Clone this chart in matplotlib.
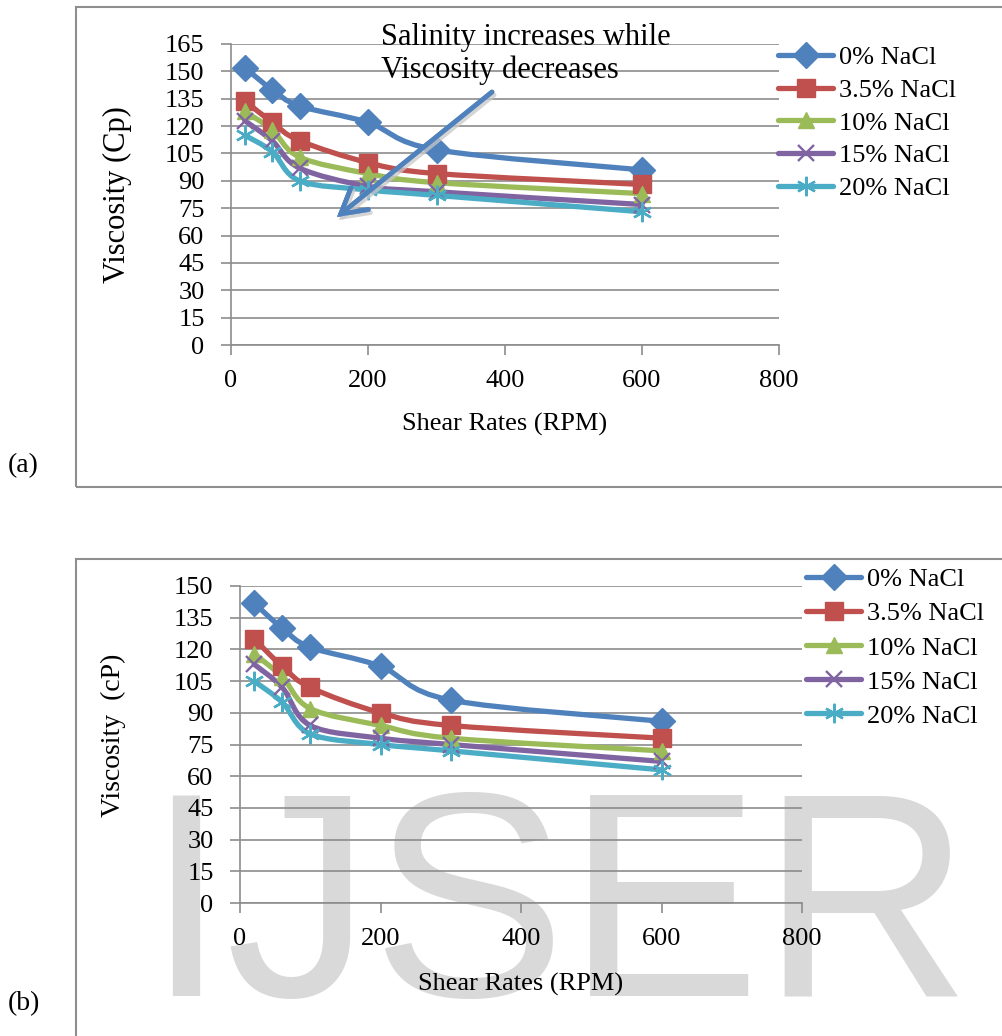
import numpy as np
import matplotlib
matplotlib.use("Agg")
import matplotlib.pyplot as plt
from matplotlib.path import Path
from matplotlib.patches import PathPatch, Rectangle
from matplotlib.lines import Line2D

# shear rates (RPM)
rpm = [20, 60, 100, 200, 300, 600]

series_names = ["0% NaCl", "3.5% NaCl", "10% NaCl", "15% NaCl", "20% NaCl"]

# panel (a) viscosity
visc_a_0 = [152, 140, 131, 122, 107, 96]
visc_a_35 = [134, 122, 112, 100, 94, 88]
visc_a_10 = [128, 118, 103, 94, 89, 83]
visc_a_15 = [123, 112, 97, 87, 84, 77]
visc_a_20 = [115, 106, 90, 85, 82, 73]

# panel (b) viscosity
visc_b_0 = [142, 130, 121, 112, 96, 86]
visc_b_35 = [125, 112, 102, 90, 84, 78]
visc_b_10 = [118, 107, 92, 84, 78, 72]
visc_b_15 = [113, 102, 84, 78, 75, 67]
visc_b_20 = [105, 95, 80, 75, 72, 63]

colors = ["#4F81BD", "#C0504D", "#9BBB59", "#8064A2", "#4BACC6"]
markers = ["D", "s", "^", "x", (6, 2, 0)]
msizes = [13, 13, 12, 12, 14]

W, H = 1002, 1036
FONT = "Liberation Serif"
plt.rcParams["font.family"] = [FONT, "DejaVu Serif"]


def fx(px):
    return px / W


def fy(py):
    return 1 - py / H


def smooth_path(x, y):
    # Excel-like smoothed line: Catmull-Rom segments as cubic Beziers
    pts = np.column_stack([x, y]).astype(float)
    n = len(pts)
    verts = [pts[0]]
    codes = [Path.MOVETO]
    for i in range(n - 1):
        p0 = pts[max(i - 1, 0)]
        p1 = pts[i]
        p2 = pts[i + 1]
        p3 = pts[min(i + 2, n - 1)]
        c1 = p1 + (p2 - p0) / 6.0
        c2 = p2 - (p3 - p1) / 6.0
        verts += [c1, c2, p2]
        codes += [Path.CURVE4] * 3
    return Path(verts, codes)


def draw_panel(ax, data, ymax, ylabel, ylab_size):
    ax.set_facecolor("none")
    for vals, c, m, ms in zip(data, colors, markers, msizes):
        ax.add_patch(PathPatch(smooth_path(rpm, vals), fill=False,
                               edgecolor=c, lw=3.8, capstyle="round",
                               joinstyle="round", zorder=3))
        mew = 1.7 if m in ("x", (6, 2, 0)) else 1
        ax.plot(rpm, vals, linestyle="none", marker=m, markersize=ms,
                color=c, markeredgecolor=c, markeredgewidth=mew, zorder=4)
    ax.set_xlim(0, 800)
    ax.set_ylim(0, ymax)
    ax.set_xticks(range(0, 801, 200))
    ax.set_yticks(range(0, ymax + 1, 15))
    ax.grid(axis="y", color="#8c8c8c", lw=1.2)
    ax.set_axisbelow(True)
    for s in ("top", "right"):
        ax.spines[s].set_visible(False)
    for s in ("left", "bottom"):
        ax.spines[s].set_color("#8c8c8c")
        ax.spines[s].set_linewidth(1.2)
    ax.tick_params(axis="x", direction="out", length=7, width=1.2,
                   color="#8c8c8c", labelsize=19, pad=11)
    ax.tick_params(axis="y", direction="out", length=7, width=1.2,
                   color="#8c8c8c", labelsize=19, pad=12)
    ax.set_xlabel("Shear Rates (RPM)", fontsize=19)
    ax.set_ylabel(ylabel, fontsize=ylab_size)


fig = plt.figure(figsize=(W / 100, H / 100), dpi=100)
fig.patch.set_facecolor("white")

# watermark behind everything
fig.text(fx(145), fy(996), "IJSER", family="Liberation Sans", fontsize=210,
         color="#d9d9d9", ha="left", va="baseline", zorder=-5)

# panel frames
fig.add_artist(Rectangle((fx(76), fy(487)), fx(1100 - 76), fy(7) - fy(487),
                         transform=fig.transFigure, fill=False,
                         edgecolor="#8f8f8f", lw=1.5, zorder=-4))
fig.add_artist(Rectangle((fx(76), fy(1100)), fx(1100 - 76), fy(559) - fy(1100),
                         transform=fig.transFigure, fill=False,
                         edgecolor="#8f8f8f", lw=1.5, zorder=-4))

ax_a = fig.add_axes([fx(231), fy(345), fx(779 - 231), fy(44) - fy(345)])
ax_b = fig.add_axes([fx(240), fy(903), fx(802 - 240), fy(586) - fy(903)])

draw_panel(ax_a, [visc_a_0, visc_a_35, visc_a_10, visc_a_15, visc_a_20],
           165, "Viscosity (Cp)", 22)
draw_panel(ax_b, [visc_b_0, visc_b_35, visc_b_10, visc_b_15, visc_b_20],
           150, "Viscosity  (cP)", 20)

ax_a.xaxis.set_label_coords(0.5, (345 - 424) / 301)
ax_a.xaxis.label.set_va("center")
ax_a.yaxis.set_label_coords((117 - 231) / 548, 0.5)
ax_a.yaxis.label.set_va("center")
ax_b.xaxis.set_label_coords(0.5, (903 - 984) / 317)
ax_b.xaxis.label.set_va("center")
ax_b.yaxis.set_label_coords((113 - 240) / 562, 0.53)
ax_b.yaxis.label.set_va("center")

handles = [Line2D([], [], color=c, lw=3.8, marker=m, markersize=ms,
                  markeredgewidth=1.7 if m in ("x", (6, 2, 0)) else 1,
                  solid_capstyle="round")
           for c, m, ms in zip(colors, markers, msizes)]
for anchor, spacing in [((fx(778), fy(46)), 0.345), ((fx(806), fy(568)), 0.40)]:
    fig.legend(handles, series_names, loc="upper left", bbox_to_anchor=anchor,
               frameon=False, fontsize=19, handlelength=2.1,
               handletextpad=0.2, labelspacing=spacing, borderpad=0,
               borderaxespad=0)

# annotation and arrow in panel (a)
fig.text(fx(381), fy(37), "Salinity increases while", fontsize=22,
         ha="left", va="center")
fig.text(fx(381), fy(70), "Viscosity decreases", fontsize=22,
         ha="left", va="center")
arrow_kw = dict(arrowstyle="->,head_length=0.7,head_width=0.4", lw=3.4,
                mutation_scale=25, shrinkA=0, shrinkB=0,
                capstyle="round", joinstyle="miter")
fig.add_artist(plt.annotate("", xy=(337 + 2, H - 217 - 3),
                            xytext=(492 + 2, H - 92 - 3),
                            xycoords="figure pixels", textcoords="figure pixels",
                            arrowprops=dict(color="#c8c8c8", alpha=0.5, **arrow_kw)))
fig.add_artist(plt.annotate("", xy=(337, H - 217), xytext=(492, H - 92),
                            xycoords="figure pixels", textcoords="figure pixels",
                            arrowprops=dict(color="#4F81BD", **arrow_kw)))

fig.text(fx(8), fy(466), "(a)", fontsize=20, ha="left", va="center")
fig.text(fx(8), fy(1004), "(b)", fontsize=20, ha="left", va="center")

fig.savefig("out.png", dpi=100)
